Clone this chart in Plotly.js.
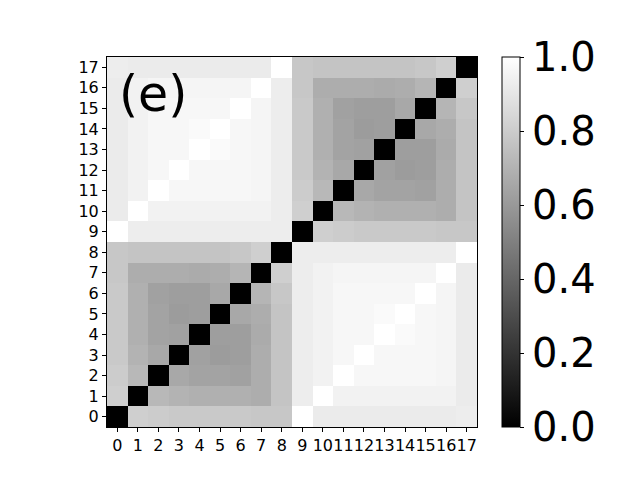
<!DOCTYPE html>
<html>
<head>
<meta charset="utf-8">
<script src="https://cdn.plot.ly/plotly-3.0.1.min.js"></script>
<style>
  body { margin: 0; background: white; }
  #myDiv { width: 640px; height: 480px; }
</style>
</head>
<body>
<div id="myDiv"></div>
<script>
// node labels 0..17
var labels = [0,1,2,3,4,5,6,7,8,9,10,11,12,13,14,15,16,17];

// first group (0-8) against itself
var blockA = [
  [0.00, 0.81, 0.80, 0.79, 0.79, 0.79, 0.79, 0.78, 0.78],
  [0.81, 0.00, 0.72, 0.70, 0.69, 0.69, 0.69, 0.68, 0.77],
  [0.80, 0.72, 0.00, 0.66, 0.64, 0.64, 0.63, 0.68, 0.77],
  [0.79, 0.70, 0.66, 0.00, 0.63, 0.61, 0.62, 0.68, 0.77],
  [0.79, 0.69, 0.64, 0.63, 0.00, 0.62, 0.62, 0.67, 0.77],
  [0.79, 0.69, 0.64, 0.61, 0.62, 0.00, 0.66, 0.68, 0.77],
  [0.79, 0.69, 0.63, 0.62, 0.62, 0.66, 0.00, 0.71, 0.78],
  [0.78, 0.68, 0.68, 0.68, 0.67, 0.68, 0.71, 0.00, 0.81],
  [0.78, 0.77, 0.77, 0.77, 0.77, 0.77, 0.78, 0.81, 0.00]
];

// second group (9-17) against itself
var blockB = [
  [0.00, 0.81, 0.80, 0.79, 0.79, 0.79, 0.79, 0.78, 0.78],
  [0.81, 0.00, 0.72, 0.70, 0.69, 0.69, 0.69, 0.68, 0.77],
  [0.80, 0.72, 0.00, 0.66, 0.64, 0.64, 0.63, 0.68, 0.77],
  [0.79, 0.70, 0.66, 0.00, 0.63, 0.61, 0.62, 0.68, 0.77],
  [0.79, 0.69, 0.64, 0.63, 0.00, 0.62, 0.62, 0.67, 0.77],
  [0.79, 0.69, 0.64, 0.61, 0.62, 0.00, 0.66, 0.68, 0.77],
  [0.79, 0.69, 0.63, 0.62, 0.62, 0.66, 0.00, 0.71, 0.78],
  [0.78, 0.68, 0.68, 0.68, 0.67, 0.68, 0.71, 0.00, 0.81],
  [0.78, 0.77, 0.77, 0.77, 0.77, 0.77, 0.78, 0.81, 0.00]
];

// rows 0-8 against columns 9-17
var blockC = [
  [1.00, 0.92, 0.92, 0.92, 0.92, 0.92, 0.92, 0.92, 0.93],
  [0.93, 1.00, 0.95, 0.95, 0.95, 0.95, 0.95, 0.95, 0.92],
  [0.93, 0.95, 1.00, 0.97, 0.97, 0.97, 0.97, 0.96, 0.92],
  [0.93, 0.95, 0.97, 1.00, 0.97, 0.97, 0.97, 0.96, 0.92],
  [0.93, 0.95, 0.97, 0.97, 1.00, 0.98, 0.97, 0.96, 0.92],
  [0.93, 0.95, 0.97, 0.97, 0.98, 1.00, 0.97, 0.96, 0.92],
  [0.93, 0.95, 0.97, 0.97, 0.97, 0.97, 1.00, 0.96, 0.92],
  [0.93, 0.95, 0.96, 0.96, 0.96, 0.96, 0.96, 1.00, 0.92],
  [0.93, 0.93, 0.93, 0.93, 0.93, 0.93, 0.93, 0.93, 1.00]
];

// stitch the full 18x18 matrix
var z = [];
for (var i = 0; i < 18; i++) {
  var row = [];
  for (var j = 0; j < 18; j++) {
    if (i < 9 && j < 9) row.push(blockA[i][j]);
    else if (i >= 9 && j >= 9) row.push(blockB[i-9][j-9]);
    else if (i < 9) row.push(blockC[i][j-9]);
    else row.push(blockC[j][i-9]);
  }
  z.push(row);
}

var data = [{
  x: labels,
  y: labels,
  z: z,
  type: 'heatmap',
  zmin: 0,
  zmax: 1,
  colorscale: [[0, '#000000'], [1, '#ffffff']],
  showscale: true,
  colorbar: {
    x: 1.0676,
    xanchor: 'left',
    xpad: 0,
    y: 0.5,
    yanchor: 'middle',
    ypad: 0,
    len: 1,
    thickness: 18,
    outlinewidth: 1,
    outlinecolor: 'black',
    ticks: 'outside',
    ticklen: 4,
    tickcolor: 'black',
    tickvals: [0, 0.2, 0.4, 0.6, 0.8, 1.0],
    ticktext: ['0.0', '0.2', '0.4', '0.6', '0.8', '1.0'],
    tickfont: {family: 'DejaVu Sans', size: 40, color: 'black'}
  }
}];

var axisStyle = {
  tickmode: 'array',
  tickvals: labels,
  ticktext: labels.map(String),
  tickangle: 0,
  range: [-0.5, 17.5],
  ticks: 'outside',
  ticklen: 4,
  tickcolor: 'black',
  showgrid: false,
  zeroline: false,
  showline: true,
  linecolor: 'black',
  linewidth: 1,
  mirror: true,
  tickfont: {family: 'DejaVu Sans', size: 16, color: 'black'}
};

var layout = {
  width: 640,
  height: 480,
  margin: {l: 107, r: 163, t: 57, b: 53},
  paper_bgcolor: 'white',
  plot_bgcolor: 'white',
  xaxis: Object.assign({}, axisStyle),
  yaxis: Object.assign({}, axisStyle),
  annotations: [{
    xref: 'paper', yref: 'paper',
    x: 0.026, y: 0.9,
    xanchor: 'left', yanchor: 'middle',
    text: '(e)',
    showarrow: false,
    font: {family: 'DejaVu Sans', size: 49, color: 'black'}
  }]
};

Plotly.newPlot('myDiv', data, layout, {displayModeBar: false, staticPlot: true});
</script>
</body>
</html>
